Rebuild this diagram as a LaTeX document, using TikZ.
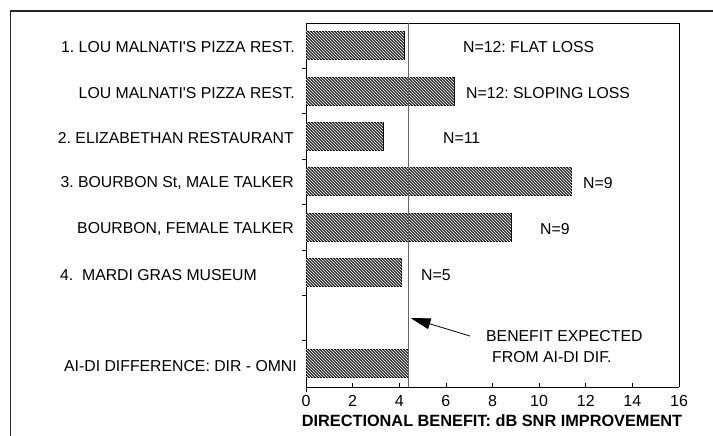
\documentclass[tikz,border=0pt]{standalone}
\usepackage{fontspec}
\setmainfont{Liberation Sans}
\newfontfamily\lab{Liberation Sans}
\usetikzlibrary{arrows.meta,patterns}
\begin{document}
\frenchspacing
\begin{tikzpicture}[x=1pt,y=-1pt,
  lbl/.style={anchor=east,inner sep=0pt,font=\lab\fontsize{15.8}{18}\selectfont},
  nlbl/.style={anchor=west,inner sep=0pt,font=\lab\fontsize{15.8}{18}\selectfont},
  tick/.style={anchor=north,inner sep=0pt,font=\lab\fontsize{16}{18}\selectfont},
  bar/.style={draw=black,line width=0.8pt,fill=black!80,postaction={pattern=north west lines,pattern color=white}},
  frame/.style={line width=1.2pt,black!85}]
\useasboundingbox (0,0) rectangle (713,436);
\def\ax{306}\def\sc{23.3125}
% outer frame
\draw[frame] (10,11) -- (713,11);
\draw[frame] (10.5,11) -- (10.5,436);
% plot box
\draw[line width=0.8pt] (306,23) -- (679,23) -- (679,387);
\draw[line width=0.9pt] (306,23) -- (306,392);
\draw[line width=0.9pt] (306,387) -- (679,387);
% y ticks
\foreach \i in {1,...,7} \draw[line width=0.6pt] (302,{23+45.375*\i}) -- (306,{23+45.375*\i});
% x ticks and labels
\foreach \v in {0,2,...,16} {
  \draw[line width=0.6pt] ({\ax+\sc*\v},387) -- ({\ax+\sc*\v},383);
  \node[tick] (t\v) at ({\ax+\sc*\v},395) {\v};
}
\node[font=\lab\bfseries\fontsize{16.3}{19}\selectfont,inner sep=0pt] (xtitle) at (492,421) {DIRECTIONAL BENEFIT: dB SNR IMPROVEMENT};
% bars
\foreach \i/\v in {1/4.2,2/6.35,3/3.3,4/11.4,5/8.8,6/4.1,8/4.4} {
  \draw[bar] (\ax,{23+45.375*(\i-0.5)-14}) rectangle ({\ax+\sc*\v},{23+45.375*(\i-0.5)+14});
}
% reference line
\draw[black!60,line width=0.7pt] ({\ax+\sc*4.4},23) -- ({\ax+\sc*4.4},387);
\coordinate (tip) at ({\ax+\sc*4.4+2},318);
% left labels
\node[lbl] (l1) at (295,47) {1. LOU MALNATI'S PIZZA REST.};
\node[lbl] (l2) at (295,93) {LOU MALNATI'S PIZZA REST.};
\node[lbl] (l3) at (294,138) {2. ELIZABETHAN RESTAURANT};
\node[lbl] (l4) at (294,183) {3. BOURBON St, MALE TALKER};
\node[lbl] (l5) at (294,229) {BOURBON, FEMALE TALKER};
\node[lbl] (l6) at (257,275) {4.\ \ MARDI GRAS MUSEUM};
\node[lbl] (l8) at (297,366) {AI-DI DIFFERENCE: DIR - OMNI};
% right labels
\node[nlbl] (n1) at (463,47) {N=12: FLAT LOSS};
\node[nlbl] (n2) at (466,93) {N=12: SLOPING LOSS};
\node[nlbl] (n3) at (443,138) {N=11};
\node[nlbl] (n4) at (583,183) {N=9};
\node[nlbl] (n5) at (540,229) {N=9};
\node[nlbl] (n6) at (421,275) {N=5};
\node[nlbl] (b1) at (486,336) {BENEFIT EXPECTED};
\node[nlbl] (b2) at (492,357) {FROM AI-DI DIF.};
\coordinate (tail) at (470,336);
\draw[line width=0.8pt,-{Triangle[length=20pt,width=11pt]}] (tail) -- (tip);
\end{tikzpicture}
\end{document}
